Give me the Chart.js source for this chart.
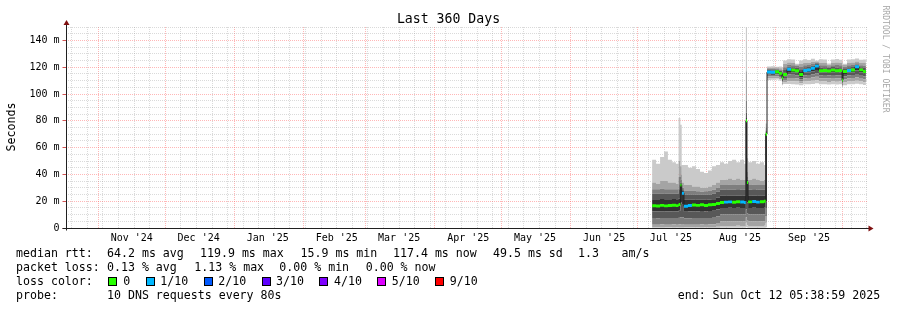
<!DOCTYPE html>
<html>
<head>
<meta charset="utf-8">
<script src="https://cdn.jsdelivr.net/npm/chart.js@4.4.1/dist/chart.umd.min.js"></script>
<style>
  body { margin: 0; background: #fff; }
  #wrap { position: relative; width: 897px; height: 310px; overflow: hidden; background: #fff; }
  #plot { position: absolute; left: 0; top: 0; }
  .t { position: absolute; font-family: 'DejaVu Sans Mono', monospace; font-size: 11.6px; line-height: 14px; white-space: pre; color: #000; }
  .box { position: absolute; top: 277px; width: 7px; height: 7px; border: 1px solid #000; }
</style>
</head>
<body>
<div id="wrap">
  <canvas id="plot" width="897" height="310"></canvas>

  <div class="t" style="left:0;top:11px;width:897px;text-align:center;font-size:13.2px;line-height:16px">Last 360 Days</div>
  <div class="t" style="left:-14px;top:120px;width:50px;text-align:center;transform:rotate(-90deg)">Seconds</div>
  <div class="t" style="left:832px;top:54px;width:108px;text-align:center;font-size:8.1px;line-height:10px;color:#a8a8a8;transform:rotate(90deg)">RRDTOOL / TOBI OETIKER</div>

  <div class="t" style="left:16px;top:246px">median rtt:</div>
  <div class="t" style="left:107px;top:246px">64.2 ms avg</div>
  <div class="t" style="left:200px;top:246px">119.9 ms max</div>
  <div class="t" style="left:300.5px;top:246px">15.9 ms min</div>
  <div class="t" style="left:393px;top:246px">117.4 ms now</div>
  <div class="t" style="left:493px;top:246px">49.5 ms sd</div>
  <div class="t" style="left:578px;top:246px">1.3</div>
  <div class="t" style="left:621.5px;top:246px">am/s</div>

  <div class="t" style="left:16px;top:260px">packet loss:</div>
  <div class="t" style="left:107px;top:260px">0.13 % avg</div>
  <div class="t" style="left:194.3px;top:260px">1.13 % max</div>
  <div class="t" style="left:279.3px;top:260px">0.00 % min</div>
  <div class="t" style="left:365.7px;top:260px">0.00 % now</div>

  <div class="t" style="left:16px;top:274px">loss color:</div>
  <div id="lossLegend"></div>

  <div class="t" style="left:16px;top:288px">probe:</div>
  <div class="t" style="left:107px;top:288px">10 DNS requests every 80s</div>
  <div class="t" style="left:677.7px;top:288px">end: Sun Oct 12 05:38:59 2025</div>
</div>

<script>
// days since graph start (Oct 17 2024 05:38:59), one entry per consolidated step
const binDays = [263.3, 265.1, 266.9, 268.7, 270.4, 272.2, 274.0, 275.2, 276.0, 276.6,
                 277.6, 279.4, 281.2, 283.0, 284.8, 286.6, 288.4, 290.2, 292.0, 293.8,
                 295.6, 297.4, 299.2, 301.0, 302.8, 304.6, 305.4, 305.9, 306.4, 308.2,
                 310.0, 311.7, 313.5, 314.3,
                 314.9, 316.7, 318.5, 320.3, 321.6, 322.1, 323.9, 325.7, 327.5, 329.3,
                 331.1, 332.9, 334.6, 336.4, 338.2, 340.0, 341.8, 343.6, 345.4, 347.2,
                 348.6, 349.0, 350.8, 352.6, 354.4, 356.2, 358.0];
const endDay = 359.3;

// median rtt in ms
const medianMs = [16.6, 16.4, 16.9, 16.5, 16.8, 17.0, 16.7, 17.5, 32.0, 26.0,
                  16.3, 16.8, 17.2, 16.9, 17.4, 16.8, 17.3, 17.6, 18.3, 19.0,
                  19.3, 19.5, 19.2, 19.6, 19.4, 19.1, 80.0, 34.0, 19.5, 19.8,
                  19.3, 19.6, 19.9, 70.0,
                  116.4, 116.2, 116.6, 115.4, 112.0, 114.5, 118.4, 117.8, 117.4, 114.5,
                  117.6, 117.9, 119.2, 120.8, 117.4, 117.6, 117.2, 117.8, 117.3, 117.6,
                  110.5, 116.8, 117.6, 117.9, 120.3, 118.0, 116.8];

// lost pings out of 10
const lossCount = [0, 0, 0, 0, 0, 0, 0, 0, 0, 1, 1, 1, 0, 0, 0, 0, 0, 0, 0, 0,
                   1, 1, 0, 0, 1, 1, 0, 0, 0, 1, 1, 0, 0, 0,
                   1, 1, 0, 0, 0, 0, 1, 0, 0, 0, 1, 1, 1, 1, 0, 0, 0, 0, 0, 0,
                   0, 0, 1, 0, 1, 0, 0];

// sorted pings (smoke), ms
const ping1 = [0, 0, 0, 0, 0, 0, 0, 0, 0, 0, 0, 0, 0, 0, 0, 0, 0, 0, 0, 0.2,
               0.2, 0.2, 0.2, 0.2, 0.2, 0.2, 0.5, 0.3, 0.2, 0.2, 0.2, 0.2, 0.2, 0.5,
               110.5, 110.6, 110.8, 110.0, 106.5, 107.5, 107.5, 107.2, 107.0, 106.5,
               107.2, 107.3, 107.5, 108.0, 107.2, 107.2, 107.0, 107.3, 107.0, 107.2,
               104.5, 106.5, 107.2, 107.3, 107.6, 107.3, 106.8];
const ping2 = [0.6, 0.6, 0.7, 0.6, 0.6, 0.7, 0.6, 0.7, 0.8, 0.8, 0.6, 0.6, 0.6, 0.6, 0.7,
               0.6, 0.7, 0.7, 1.0, 1.5, 1.5, 1.5, 1.5, 1.6, 1.5, 1.5, 4.0, 2.0, 1.5, 1.5,
               1.5, 1.5, 1.6, 4.0,
               111.5, 111.6, 111.8, 111.0, 107.5, 109.0, 109.5, 109.5, 109.3, 108.0,
               109.3, 109.5, 109.8, 110.2, 109.3, 109.3, 109.0, 109.4, 109.1, 109.3,
               105.5, 108.5, 109.3, 109.4, 109.8, 109.4, 108.8];
const ping3 = [2.5, 2.5, 2.6, 2.5, 2.5, 2.6, 2.5, 2.7, 3.0, 3.0, 2.4, 2.5, 2.5, 2.5, 2.6,
               2.5, 2.6, 2.7, 3.8, 5.0, 5.0, 5.1, 5.0, 5.1, 5.0, 5.0, 8.0, 6.0, 5.0, 5.1,
               5.0, 5.0, 5.1, 9.0,
               113.0, 113.0, 113.3, 112.2, 108.5, 110.5, 112.0, 112.0, 111.8, 109.5,
               111.8, 112.0, 112.3, 112.8, 111.8, 111.8, 111.5, 111.9, 111.6, 111.8,
               106.5, 110.8, 111.8, 111.9, 112.4, 111.9, 111.0];
const ping4 = [7.4, 7.3, 7.5, 7.4, 7.4, 7.5, 7.4, 7.6, 8.0, 8.0, 7.3, 7.3, 7.5, 7.4, 7.5,
               7.4, 7.5, 7.7, 8.8, 10.0, 10.0, 10.2, 10.0, 10.2, 10.0, 10.0, 14.0, 11.0, 10.0, 10.2,
               10.0, 10.0, 10.2, 15.0,
               114.3, 114.2, 114.6, 113.4, 109.5, 112.0, 114.5, 114.3, 114.0, 111.0,
               114.0, 114.2, 114.8, 115.5, 114.0, 114.1, 113.8, 114.2, 113.8, 114.0,
               108.0, 113.0, 114.0, 114.2, 115.0, 114.2, 113.2];
const ping5 = [12.4, 12.3, 12.5, 12.4, 12.4, 12.5, 12.4, 12.8, 19.0, 18.0, 12.2, 12.3, 12.5, 12.4, 12.6,
               12.4, 12.6, 12.8, 13.8, 15.0, 15.0, 15.2, 15.0, 15.2, 15.0, 15.0, 20.0, 19.0, 15.0, 15.2,
               15.0, 15.0, 15.2, 20.0,
               115.3, 115.2, 115.6, 114.4, 110.5, 113.0, 116.5, 116.3, 116.0, 112.5,
               116.0, 116.2, 117.0, 118.0, 116.0, 116.1, 115.8, 116.2, 115.8, 116.0,
               109.0, 115.0, 116.0, 116.2, 117.5, 116.2, 115.2];
const ping6 = [21.5, 21.5, 21.7, 21.5, 21.5, 21.7, 21.5, 22.0, 34.0, 28.0, 21.0, 21.0, 21.3, 21.0, 21.0,
               21.0, 21.3, 21.5, 22.8, 24.0, 24.0, 24.0, 24.0, 24.2, 24.0, 24.0, 82.0, 35.0, 24.0, 24.2,
               24.0, 24.0, 24.0, 72.0,
               117.2, 117.0, 117.4, 116.4, 113.5, 116.0, 119.5, 119.0, 118.6, 116.5,
               118.8, 119.0, 120.2, 121.6, 118.6, 118.8, 118.5, 119.0, 118.5, 118.8,
               113.0, 118.0, 118.8, 119.0, 121.2, 119.0, 118.0];
const ping7 = [25.5, 25.5, 25.5, 25.5, 25.5, 25.5, 25.5, 29.0, 36.0, 29.0, 25.0, 25.0, 25.0, 24.8, 24.8,
               24.8, 25.0, 25.5, 27.0, 28.5, 28.5, 28.5, 28.5, 29.0, 28.5, 28.5, 86.0, 36.0, 28.5, 29.0,
               28.5, 28.5, 28.5, 72.5,
               118.0, 117.8, 118.2, 117.3, 115.0, 118.0, 120.5, 120.0, 119.8, 118.5,
               120.0, 120.2, 121.2, 122.3, 119.8, 120.0, 119.6, 120.1, 119.8, 120.0,
               116.0, 119.2, 120.0, 120.2, 122.0, 120.0, 119.4];
const ping8 = [29.0, 29.0, 29.5, 29.0, 29.0, 29.0, 29.0, 38.0, 40.0, 30.0, 28.0, 28.0, 28.0, 27.5, 27.0,
               27.5, 28.0, 28.5, 30.0, 32.0, 32.0, 32.5, 32.0, 32.5, 32.0, 32.0, 95.0, 38.0, 32.0, 32.5,
               32.0, 32.0, 32.0, 73.0,
               118.7, 118.6, 118.9, 118.2, 116.5, 120.0, 121.8, 121.5, 121.0, 120.2,
               121.5, 121.6, 122.4, 123.2, 121.4, 121.5, 120.8, 121.5, 121.6, 121.4,
               118.5, 120.5, 121.5, 121.6, 123.0, 121.5, 121.2];
const ping9 = [34, 33, 35, 35, 34, 34, 33, 50, 46, 34, 32, 32, 31, 31, 30,
               30, 31, 32, 34, 36, 36, 37, 36, 37, 36, 36, 117, 42, 36, 37,
               36, 35, 36, 75,
               119.5, 119.5, 119.7, 119.2, 118.0, 122.5, 123.5, 123.3, 122.0, 122.5,
               123.4, 123.2, 124.0, 124.3, 123.3, 123.3, 121.8, 123.3, 123.5, 123.2,
               121.5, 121.8, 123.3, 123.5, 124.2, 123.3, 123.2];
const ping10 = [51, 48, 53, 57, 51, 49, 48, 82, 77, 47, 47, 45, 46, 44, 42,
                41, 43, 46, 47, 49, 48, 50, 51, 49, 51, 48, 150, 52, 49, 50,
                48, 49, 47, 78,
                120.5, 120.8, 120.4, 120.6, 120.0, 125.0, 126.0, 125.8, 122.5, 125.0,
                126.0, 125.3, 126.3, 125.0, 126.0, 125.7, 122.8, 125.8, 126.2, 125.5,
                124.0, 122.5, 125.7, 126.0, 126.5, 125.5, 125.8];

// axis labels
const monthLabels = ["Nov '24", "Dec '24", "Jan '25", "Feb '25", "Mar '25", "Apr '25",
                     "May '25", "Jun '25", "Jul '25", "Aug '25", "Sep '25"];
const lossLabels = ['0', '1/10', '2/10', '3/10', '4/10', '5/10', '9/10'];
const lossLegendColors = ['#26ff00', '#00b8ff', '#0059ff', '#5e00ff', '#7e00ff', '#dd00ff', '#ff0000'];
const lossColorByCount = ['#26ff00', '#00b8ff', '#0059ff', '#5e00ff', '#7e00ff', '#dd00ff',
                          '#dd00ff', '#dd00ff', '#dd00ff', '#ff0000', '#ff0000'];

const smokeColors = ['#cacaca', '#a4a4a4', '#7e7e7e', '#585858', '#323232',
                     '#585858', '#7e7e7e', '#a4a4a4', '#cacaca'];

// loss colour legend
const boxX = [108, 146, 204, 262, 319, 377, 435];
const textX = [123.3, 160.3, 218.3, 276, 334, 391.7, 449.7];
const lossLegend = document.getElementById('lossLegend');
lossLabels.forEach((lab, i) => {
    const b = document.createElement('div');
    b.className = 'box';
    b.style.left = boxX[i] + 'px';
    b.style.background = lossLegendColors[i];
    lossLegend.appendChild(b);
    const t = document.createElement('div');
    t.className = 't';
    t.style.left = textX[i] + 'px';
    t.style.top = '274px';
    t.textContent = lab;
    lossLegend.appendChild(t);
});

const DAY = 86400000;
const start = Date.UTC(2024, 9, 17, 5, 38, 59);
const toDay = t => (t - start) / DAY;

// x ticks: month starts (red), sundays (grey), mid-month labels
const xTicks = [];
const monthDays = [];
for (let i = 0; i < 12; i++) {
    const d = toDay(Date.UTC(2024, 10 + i, 1));
    monthDays.push(d);
    xTicks.push({value: d, kind: 'month'});
}
for (let t = Date.UTC(2024, 9, 20); toDay(t) < 360; t += 7 * DAY) {
    const d = toDay(t);
    if (!monthDays.some(m => Math.abs(m - d) < 0.01)) xTicks.push({value: d, kind: 'week'});
}
monthLabels.forEach((lab, i) => xTicks.push({value: monthDays[i] + 15, kind: 'label', text: lab}));
xTicks.sort((a, b) => a.value - b.value);

function series(values) {
    const pts = values.map((v, i) => ({x: binDays[i], y: v}));
    pts.push({x: endDay, y: values[values.length - 1]});
    return pts;
}

const bandHalf = 1.1; // half height of the coloured median bar, ms

const pings = [ping1, ping2, ping3, ping4, ping5, ping6, ping7, ping8, ping9, ping10];
const datasets = pings.map((vals, i) => ({
    data: series(vals),
    stepped: true,
    borderWidth: 0,
    pointRadius: 0,
    fill: i === 0 ? false : '-1',
    backgroundColor: i === 0 ? 'transparent' : smokeColors[i - 1],
    order: 3
}));
datasets.push({
    data: series(medianMs),
    stepped: true, borderWidth: 1, borderColor: '#202020', pointRadius: 0, fill: false, order: 2
});
datasets.push({
    data: series(medianMs.map(v => v - bandHalf)),
    stepped: true, borderWidth: 0, pointRadius: 0, fill: false, order: 1
});
datasets.push({
    data: series(medianMs.map(v => v + bandHalf)),
    stepped: true, borderWidth: 0, pointRadius: 0, fill: '-1', order: 1,
    backgroundColor: '#26ff00',
    segment: {backgroundColor: ctx => lossColorByCount[lossCount[ctx.p0DataIndex]]}
});

const red = 'rgba(255, 95, 95, 0.45)';
const grey = 'rgba(150, 150, 150, 0.35)';

const axesDecor = {
    id: 'axesDecor',
    afterDraw(chart) {
        const {ctx, chartArea: a} = chart;
        const x0 = Math.round(a.left) + 0.5;
        const y0 = Math.round(a.bottom) + 0.5;
        ctx.save();
        ctx.strokeStyle = '#202020';
        ctx.lineWidth = 1;
        ctx.beginPath();
        ctx.moveTo(x0 - 4, y0); ctx.lineTo(a.right + 2, y0);
        ctx.moveTo(x0, y0 + 2); ctx.lineTo(x0, a.top - 3);
        ctx.stroke();
        ctx.fillStyle = '#7f1010';
        ctx.beginPath();
        ctx.moveTo(a.right + 1, y0 - 3); ctx.lineTo(a.right + 6, y0); ctx.lineTo(a.right + 1, y0 + 3);
        ctx.fill();
        ctx.beginPath();
        ctx.moveTo(x0 - 3, a.top - 2); ctx.lineTo(x0, a.top - 7); ctx.lineTo(x0 + 3, a.top - 2);
        ctx.fill();
        ctx.restore();
    }
};

Chart.defaults.font.family = "'DejaVu Sans Mono'";
Chart.defaults.font.size = 10;
Chart.defaults.color = '#000';

const ctx = document.getElementById('plot').getContext('2d');
const myChart = new Chart(ctx, {
    type: 'line',
    data: {datasets: datasets},
    options: {
        responsive: false,
        animation: false,
        events: [],
        layout: {padding: {top: 27, right: 29.5, left: 0, bottom: 0}},
        plugins: {legend: {display: false}, tooltip: {enabled: false}, title: {display: false}},
        scales: {
            x: {
                type: 'linear', min: 0, max: 360, z: 1,
                afterFit: s => { s.height = 82; },
                afterBuildTicks: s => { s.ticks = xTicks.map(t => ({...t})); },
                ticks: {autoSkip: false, maxRotation: 0, padding: 4,
                        callback: (v, i, ticks) => ticks[i].text || ''},
                grid: {drawTicks: false,
                       color: c => c.tick && c.tick.kind === 'month' ? red :
                                   (c.tick && c.tick.kind === 'week' ? grey : 'rgba(0,0,0,0)')},
                border: {display: false, dash: [1, 1]}
            },
            y: {
                min: 0, max: 150, z: 1,
                afterFit: s => { s.width = 65.5; },
                ticks: {stepSize: 5, autoSkip: false, padding: 3,
                        callback: v => v % 20 === 0 ? (v === 0 ? '0' : v + ' m') : ''},
                grid: {tickLength: 3,
                       color: c => c.tick && c.tick.value % 20 === 0 ? red : grey,
                       tickColor: c => c.tick && c.tick.value % 20 === 0 ? 'rgba(200,40,40,0.8)' : 'rgba(0,0,0,0)'},
                border: {display: false, dash: [1, 1]}
            }
        }
    },
    plugins: [axesDecor]
});
</script>
</body>
</html>
